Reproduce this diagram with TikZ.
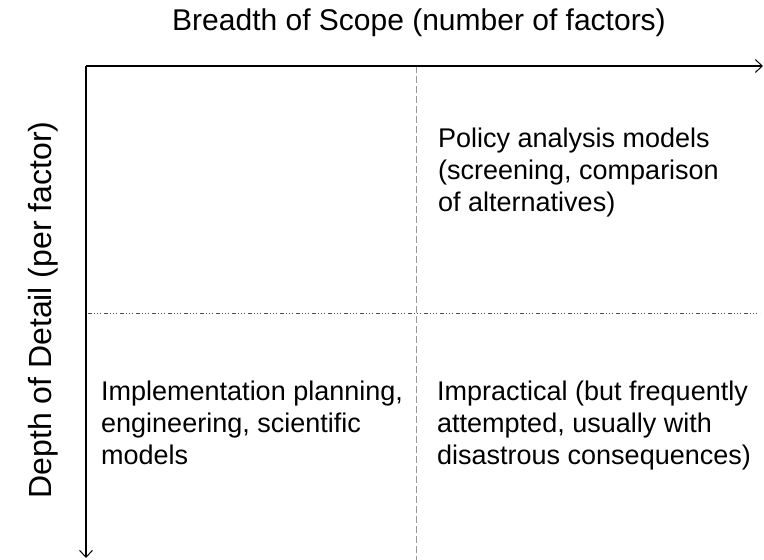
\documentclass[tikz,border=0pt]{standalone}
\usepackage{fontspec}
\setmainfont{Liberation Sans}
\usetikzlibrary{arrows.meta}
\begin{document}
\begin{tikzpicture}[x=1pt,y=-1pt,
  axis/.style={line width=1.6pt,-{Straight Barb[length=7pt,width=13pt,line width=1pt]}},
  axislabel/.style={font=\fontsize{30}{36}\selectfont,inner sep=0pt},
  quadtext/.style={font=\fontsize{27}{32}\selectfont,align=left,inner sep=0pt,anchor=north west},
  vdiv/.style={gray!80,line width=0.8pt,dash pattern=on 7pt off 3pt},
  hdiv/.style={black!70,line width=1pt,dash pattern=on 4pt off 2pt on 1pt off 2pt on 1pt off 2pt on 1pt off 3pt}]
\useasboundingbox (0,0) rectangle (764,560);
\coordinate (O) at (86,66);
\coordinate (xend) at (763,66);
\coordinate (yend) at (86,558);
\coordinate (vtop) at (416,66);
\coordinate (vbot) at (416,560);
\coordinate (hleft) at (88,313);
\coordinate (hright) at (760,313);
\draw[vdiv] (vtop) -- (vbot);
\draw[hdiv] (hleft) -- (hright);
\draw[axis] (O) -- (xend);
\draw[axis] (O) -- (yend);
\node[axislabel,anchor=base] (xlabel) at (419,30) {Breadth of Scope (number of factors)};
\node[axislabel,font=\fontsize{32}{38}\selectfont,anchor=base,rotate=90] (ylabel) at (51,310) {Depth of Detail (per factor)};
\node[quadtext] (ur) at (438,128) {Policy analysis models\\(screening, comparison\\of alternatives)};
\node[quadtext] (ll) at (101,381) {Implementation planning,\\engineering, scientific\\models};
\node[quadtext] (lr) at (437,381) {Impractical (but frequently\\attempted, usually with\\disastrous consequences)};
\end{tikzpicture}
\end{document}
